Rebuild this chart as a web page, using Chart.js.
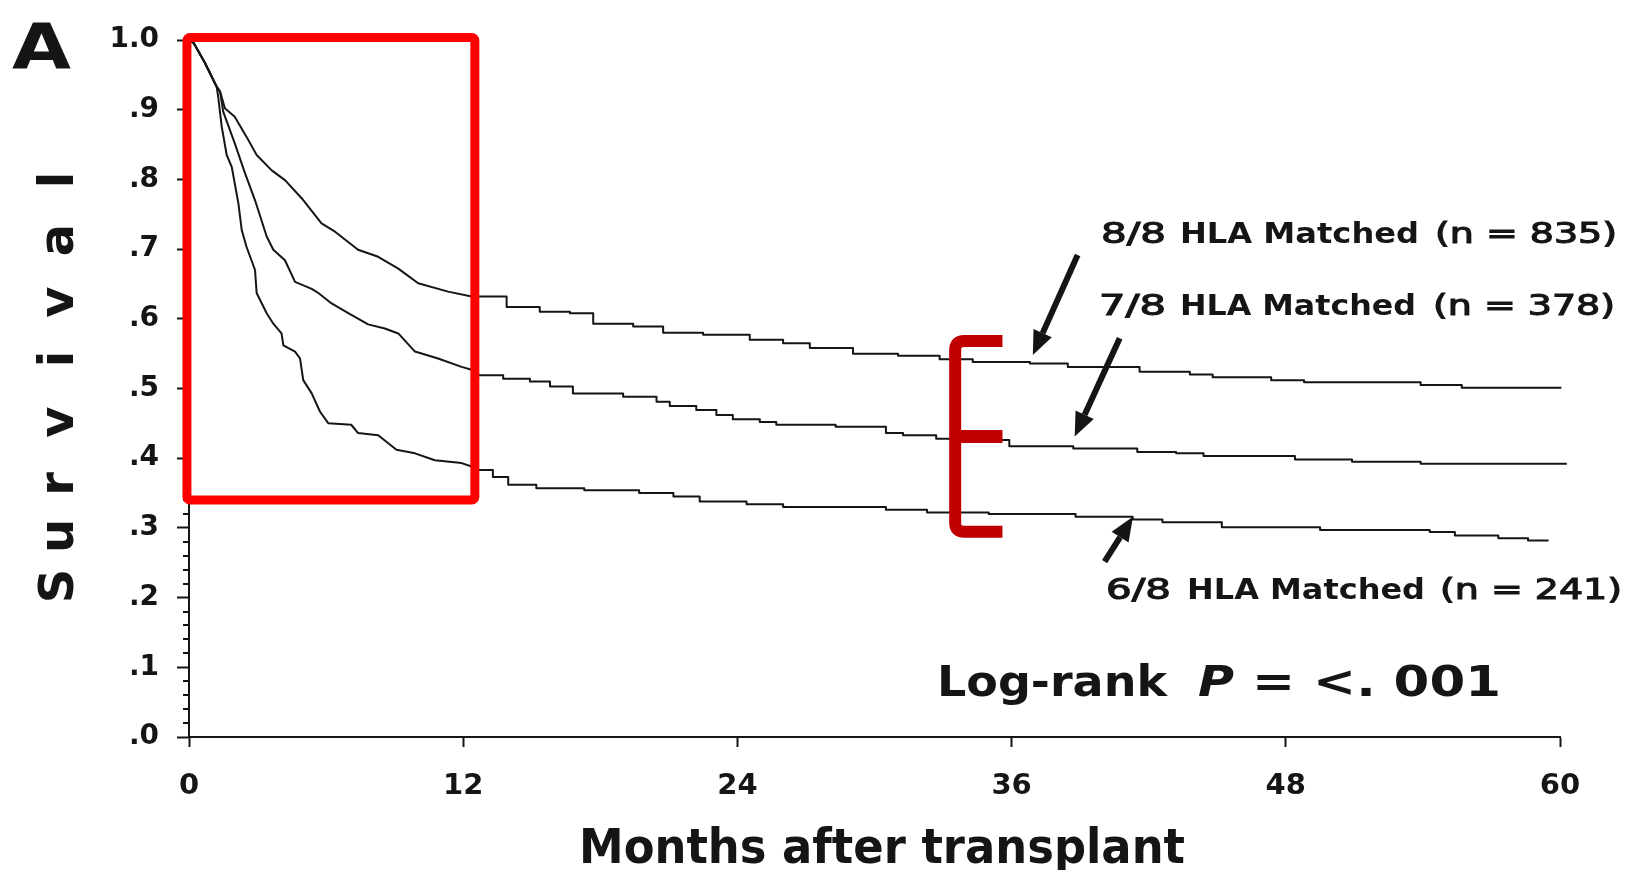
<!DOCTYPE html>
<html>
<head>
<meta charset="utf-8">
<title>Survival by HLA match</title>
<script src="https://cdn.jsdelivr.net/npm/chart.js@4.4.1/dist/chart.umd.min.js"></script>
<style>
  html, body { margin: 0; padding: 0; background: #ffffff; }
  canvas { display: block; }
</style>
</head>
<body>
<canvas id="km" width="1633" height="870" style="width:1633px;height:870px"></canvas>
<script>
// ---- Kaplan-Meier survival estimates (months after transplant, survival proportion) ----
const months88 = [0, 0.2, 0.7, 1.21, 1.36, 1.57, 2.0, 2.52, 2.96, 3.62, 4.2, 4.93, 5.8, 6.39, 7.4, 8.28, 9.16, 10.03, 11.34, 12.37, 13.9, 15.35, 16.67, 17.69, 19.44, 20.75, 22.5, 24.54, 26.0, 27.17, 29.06, 31.03, 32.85, 34.3, 36.8, 38.46, 41.6, 43.8, 44.8, 47.36, 48.8, 53.9, 55.7, 60.06];
const surv88   = [1.0, 0.996, 0.967, 0.933, 0.926, 0.902, 0.89, 0.861, 0.835, 0.813, 0.799, 0.773, 0.737, 0.725, 0.699, 0.689, 0.672, 0.651, 0.639, 0.632, 0.617, 0.610, 0.608, 0.593, 0.589, 0.580, 0.577, 0.570, 0.565, 0.558, 0.550, 0.547, 0.542, 0.538, 0.536, 0.531, 0.524, 0.520, 0.516, 0.512, 0.509, 0.505, 0.501, 0.501];

const months78 = [0, 0.2, 0.7, 1.21, 1.36, 1.5, 2.0, 2.45, 2.89, 3.4, 3.69, 4.2, 4.64, 5.37, 5.66, 6.24, 6.97, 7.84, 8.57, 9.16, 9.89, 10.9, 11.93, 12.37, 12.66, 13.75, 14.92, 15.8, 16.8, 19.0, 20.46, 21.04, 22.2, 23.08, 23.8, 24.98, 25.7, 28.3, 30.5, 31.25, 32.7, 33.3, 35.9, 38.7, 41.5, 43.2, 44.4, 48.4, 50.9, 53.9, 60.3];
const surv78   = [1.0, 0.996, 0.967, 0.933, 0.926, 0.897, 0.852, 0.809, 0.770, 0.718, 0.699, 0.684, 0.653, 0.643, 0.637, 0.622, 0.608, 0.592, 0.586, 0.579, 0.553, 0.543, 0.531, 0.527, 0.519, 0.514, 0.510, 0.503, 0.493, 0.488, 0.481, 0.475, 0.469, 0.462, 0.456, 0.452, 0.448, 0.445, 0.436, 0.433, 0.428, 0.426, 0.417, 0.414, 0.409, 0.407, 0.403, 0.398, 0.395, 0.392, 0.392];

const months68 = [0, 0.2, 0.7, 1.21, 1.28, 1.43, 1.65, 1.87, 2.16, 2.31, 2.52, 2.89, 2.96, 3.4, 3.69, 4.05, 4.13, 4.64, 4.86, 5.0, 5.37, 5.73, 6.1, 7.1, 7.4, 8.28, 9.08, 9.89, 10.76, 11.93, 12.37, 12.66, 13.3, 13.97, 15.2, 17.3, 19.7, 21.2, 22.35, 24.4, 26.0, 30.5, 32.3, 35.0, 38.8, 41.3, 42.6, 45.2, 49.5, 54.3, 55.4, 57.3, 58.6, 59.5];
const surv68   = [1.0, 0.996, 0.967, 0.933, 0.918, 0.876, 0.835, 0.818, 0.766, 0.727, 0.703, 0.670, 0.637, 0.608, 0.593, 0.579, 0.562, 0.553, 0.543, 0.512, 0.493, 0.467, 0.450, 0.448, 0.436, 0.433, 0.412, 0.407, 0.397, 0.393, 0.388, 0.383, 0.373, 0.362, 0.357, 0.354, 0.350, 0.345, 0.338, 0.334, 0.330, 0.326, 0.322, 0.320, 0.316, 0.312, 0.308, 0.301, 0.297, 0.294, 0.289, 0.285, 0.282, 0.282];

// ---- Axis ticks and labels ----
const xTickValues = [0, 12, 24, 36, 48, 60];
const yTickLabels = ['.0', '.1', '.2', '.3', '.4', '.5', '.6', '.7', '.8', '.9', '1.0'];

// ---- Group captions ----
const groupRatios = ['8/8', '7/8', '6/8'];
const groupNames  = ['HLA Matched', 'HLA Matched', 'HLA Matched'];
const groupSizes  = ['(n = 835)', '(n = 378)', '(n = 241)'];

const INK = '#151515';
const FONT = '"DejaVu Sans", Verdana, sans-serif';

// The dense first-year events read as a continuous ragged descent; later
// events are sparse enough to show as individual steps.
const DENSE_END = 12.7;

function firstYear(xs, ys) {
  const pts = [];
  xs.forEach((x, i) => { if (x <= DENSE_END) pts.push({ x: x, y: ys[i] }); });
  return pts;
}
function afterFirstYear(xs, ys) {
  const start = xs.findIndex(x => x > DENSE_END) - 1;
  return xs.slice(start).map((x, i) => ({ x: x, y: ys[start + i] }));
}
function isMajor(v) { return Math.abs(v * 10 - Math.round(v * 10)) < 1e-6; }

// Draw text horizontally scaled so it spans exactly `w` pixels.
function fitText(ctx, text, font, x, baseline, w, outline) {
  ctx.save();
  ctx.font = font;
  ctx.textAlign = 'left';
  ctx.textBaseline = 'alphabetic';
  const nat = ctx.measureText(text).width;
  ctx.translate(x, baseline);
  ctx.scale(w / nat, 1);
  ctx.fillText(text, 0, 0);
  if (outline) {
    ctx.lineWidth = outline;
    ctx.strokeStyle = ctx.fillStyle;
    ctx.strokeText(text, 0, 0);
  }
  ctx.restore();
}

function arrow(ctx, x1, y1, x2, y2) {
  const ang = Math.atan2(y2 - y1, x2 - x1);
  const headLen = 24, headHalf = 10;
  const bx = x2 - headLen * Math.cos(ang), by = y2 - headLen * Math.sin(ang);
  ctx.save();
  ctx.strokeStyle = INK; ctx.fillStyle = INK;
  ctx.lineWidth = 6; ctx.lineCap = 'butt';
  ctx.beginPath(); ctx.moveTo(x1, y1); ctx.lineTo(bx, by); ctx.stroke();
  ctx.beginPath();
  ctx.moveTo(x2, y2);
  ctx.lineTo(bx + headHalf * Math.sin(ang), by - headHalf * Math.cos(ang));
  ctx.lineTo(bx - headHalf * Math.sin(ang), by + headHalf * Math.cos(ang));
  ctx.closePath(); ctx.fill();
  ctx.restore();
}

// Short minor ticks, highlight box, bracket, arrows and captions.
const decorations = {
  id: 'decorations',
  afterDraw(chart) {
    const ctx = chart.ctx;
    const xs = chart.scales.x, ys = chart.scales.y;
    const X = v => xs.getPixelForValue(v), Y = v => ys.getPixelForValue(v);

    // minor y ticks
    ctx.save();
    ctx.strokeStyle = INK; ctx.lineWidth = 2;
    ys.ticks.forEach(t => {
      if (!isMajor(t.value)) {
        const y = Math.round(Y(t.value));
        ctx.beginPath(); ctx.moveTo(xs.left - 6, y); ctx.lineTo(xs.left, y); ctx.stroke();
      }
    });
    ctx.restore();

    // red highlight box over the first year
    ctx.save();
    ctx.strokeStyle = '#ff0000'; ctx.lineWidth = 9; ctx.lineJoin = 'round';
    const bx0 = X(-0.09), bx1 = X(12.51), by0 = Y(1.0036), by1 = Y(0.340);
    ctx.beginPath();
    ctx.roundRect(bx0, by0, bx1 - bx0, by1 - by0, 3);
    ctx.stroke();
    ctx.restore();

    // dark red bracket grouping the three curves
    ctx.save();
    ctx.strokeStyle = '#c00000'; ctx.lineWidth = 12; ctx.lineCap = 'butt'; ctx.lineJoin = 'round';
    const kx = X(33.53), kArm = X(35.6), kTop = Y(0.568), kMid = Y(0.431), kBot = Y(0.2945), r = 9;
    ctx.beginPath();
    ctx.moveTo(kArm, kTop);
    ctx.lineTo(kx + r, kTop);
    ctx.quadraticCurveTo(kx, kTop, kx, kTop + r);
    ctx.lineTo(kx, kBot - r);
    ctx.quadraticCurveTo(kx, kBot, kx + r, kBot);
    ctx.lineTo(kArm, kBot);
    ctx.stroke();
    ctx.lineWidth = 13;
    ctx.beginPath(); ctx.moveTo(kx, kMid); ctx.lineTo(kArm, kMid); ctx.stroke();
    ctx.restore();

    // arrows pointing at each curve
    arrow(ctx, X(38.89), Y(0.6915), X(36.93), Y(0.548));
    arrow(ctx, X(40.73), Y(0.572), X(38.76), Y(0.431));
    arrow(ctx, X(40.07), Y(0.2515), X(41.31), Y(0.316));

    // captions
    ctx.save();
    ctx.fillStyle = INK;
    const bold = '700 28px ' + FONT, reg = '400 28px ' + FONT;
    const rows = [
      { base: 243, xr: 1101, wr: 65, xn: 1180, wn: 239, xs: 1435, ws: 182 },
      { base: 315, xr: 1099, wr: 67, xn: 1180, wn: 236, xs: 1433, ws: 182 },
      { base: 599, xr: 1106, wr: 65, xn: 1187, wn: 238, xs: 1440, ws: 182 }
    ];
    rows.forEach((rw, i) => {
      fitText(ctx, groupRatios[i], reg, rw.xr, rw.base, rw.wr, 1.1);
      fitText(ctx, groupNames[i], bold, rw.xn, rw.base, rw.wn);
      fitText(ctx, groupSizes[i], reg, rw.xs, rw.base, rw.ws, 1.1);
    });

    // log-rank statement
    const lrFont = '700 42px ' + FONT;
    fitText(ctx, 'Log-rank', lrFont, 937, 696, 230);
    fitText(ctx, 'P', 'italic 700 42px ' + FONT, 1198, 696, 36);
    fitText(ctx, '= <. 001', lrFont, 1252, 696, 249);

    // x axis title
    fitText(ctx, 'Months after transplant', '700 48px ' + FONT, 579, 863, 606);

    // vertical, widely spaced y title
    ctx.save();
    ctx.font = '700 48px ' + FONT;
    ctx.textBaseline = 'alphabetic';
    ctx.textAlign = 'center';
    ctx.translate(73, 0);
    ctx.rotate(-Math.PI / 2);
    const letters = 'Survival'.split('');
    const centers = [586, 536, 484, 422, 359, 302, 240, 180];
    letters.forEach((ch, i) => ctx.fillText(ch, -centers[i], 0));
    ctx.restore();

    // panel letter
    fitText(ctx, 'A', '700 62px ' + FONT, 12, 68, 59);
    ctx.restore();
  }
};

function curve(label, points, stepped) {
  return {
    label: label,
    data: points,
    stepped: stepped,
    borderColor: INK,
    borderWidth: 2,
    borderJoinStyle: 'round',
    pointRadius: 0,
    fill: false,
    clip: false
  };
}

new Chart(document.getElementById('km'), {
  type: 'line',
  data: {
    datasets: [
      curve('8/8 HLA Matched', firstYear(months88, surv88), false),
      curve('8/8 HLA Matched', afterFirstYear(months88, surv88), 'before'),
      curve('7/8 HLA Matched', firstYear(months78, surv78), false),
      curve('7/8 HLA Matched', afterFirstYear(months78, surv78), 'before'),
      curve('6/8 HLA Matched', firstYear(months68, surv68), false),
      curve('6/8 HLA Matched', afterFirstYear(months68, surv68), 'before')
    ]
  },
  options: {
    responsive: false,
    animation: false,
    layout: { padding: { top: 40, right: 73, left: 0, bottom: 0 } },
    plugins: { legend: { display: false }, tooltip: { enabled: false } },
    scales: {
      x: {
        type: 'linear',
        min: 0, max: 60,
        afterFit(s) { s.height = 133; },
        afterBuildTicks(s) { s.ticks = xTickValues.map(v => ({ value: v })); },
        ticks: {
          color: INK,
          padding: 22,
          maxRotation: 0,
          font: { family: FONT, weight: 'bold', size: 29 }
        },
        grid: { drawOnChartArea: false, tickLength: 10, tickColor: INK, tickWidth: 2 },
        border: { color: INK, width: 2 }
      },
      y: {
        type: 'linear',
        min: 0, max: 1,
        afterFit(s) { s.width = 189; },
        ticks: {
          stepSize: 0.02,
          autoSkip: false,
          color: INK,
          padding: 18,
          font: { family: FONT, weight: 'bold', size: 28 },
          callback: v => isMajor(v) ? yTickLabels[Math.round(v * 10)] : ''
        },
        grid: {
          drawOnChartArea: false,
          tickLength: 12,
          tickWidth: 2,
          tickColor: c => (c.tick && isMajor(c.tick.value)) ? INK : 'rgba(0,0,0,0)'
        },
        border: { color: INK, width: 2 }
      }
    }
  },
  plugins: [decorations]
});
</script>
</body>
</html>
